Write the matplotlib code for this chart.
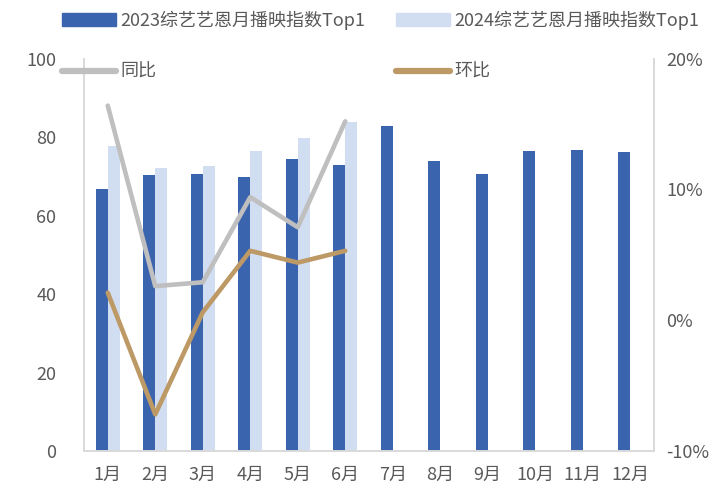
import matplotlib
matplotlib.use('Agg')
import matplotlib.pyplot as plt
import numpy as np
from matplotlib.patches import Patch
from matplotlib.lines import Line2D

plt.rcParams['font.family'] = ['Noto Sans CJK SC', 'DejaVu Sans']

# data
months = ['1月', '2月', '3月', '4月', '5月', '6月', '7月', '8月', '9月', '10月', '11月', '12月']
idx_2023 = [66.8, 70.4, 70.7, 69.9, 74.4, 72.9, 82.7, 74.0, 70.5, 76.4, 76.8, 76.2]
idx_2024 = [77.8, 72.2, 72.6, 76.4, 79.7, 83.9]
yoy = [16.4, 2.6, 2.9, 9.4, 7.1, 15.2]      # 同比, %
mom = [2.1, -7.2, 0.6, 5.3, 4.4, 5.3]       # 环比, %

label_2023 = '2023综艺艺恩月播映指数Top1'
label_2024 = '2024综艺艺恩月播映指数Top1'

c_dark = '#3b64ae'
c_light = '#d1ddf1'
c_gray = '#bfbfbf'
c_tan = '#bd9966'
c_text = '#595959'
c_spine = '#d9d9d9'
fs = 13

fig = plt.figure(figsize=(7.09, 4.91), dpi=100)
ax = fig.add_axes([84/709, 1-451/491, (654-84)/709, (451-58.5)/491])

x = np.arange(len(months))
w = 0.25
ax.bar(x - w/2, idx_2023, width=w, color=c_dark, zorder=2)
ax.bar(np.arange(len(idx_2024)) + w/2, idx_2024, width=w, color=c_light, zorder=2)

ax.set_xlim(-0.5, 11.5)
ax.set_ylim(0, 100)
ax.set_yticks(range(0, 101, 20))
ax.set_xticks(x)
ax.set_xticklabels(months)
ax.tick_params(axis='y', length=0, pad=20, labelsize=fs, labelcolor=c_text)
ax.tick_params(axis='x', length=0, pad=11, labelsize=fs, labelcolor=c_text)

ax2 = ax.twinx()
ax2.plot(range(len(yoy)), yoy, color=c_gray, lw=3.3,
         solid_capstyle='round', solid_joinstyle='round')
ax2.plot(range(len(mom)), mom, color=c_tan, lw=3.3,
         solid_capstyle='round', solid_joinstyle='round')
ax2.set_ylim(-10, 20)
ax2.set_yticks([-10, 0, 10, 20])
ax2.set_yticklabels(['-10%', '0%', '10%', '20%'])
ax2.tick_params(axis='y', length=0, pad=9, labelsize=fs, labelcolor=c_text)

for a in (ax, ax2):
    a.spines['top'].set_visible(False)
    for s in ('left', 'right', 'bottom'):
        a.spines[s].set_color(c_spine)
        a.spines[s].set_linewidth(1.2)

# legend entries placed one by one
entries = [
    (Patch(color=c_dark), label_2023, 62, 20),
    (Patch(color=c_light), label_2024, 396, 20),
    (Line2D([], [], color=c_gray, lw=4.5, solid_capstyle='round'), '同比', 62, 72),
    (Line2D([], [], color=c_tan, lw=4.5, solid_capstyle='round'), '环比', 396, 72),
]
for h, lab, px, py in entries:
    leg = fig.legend([h], [lab], loc='center left',
                     bbox_to_anchor=(px/709, 1-py/491), frameon=False,
                     fontsize=fs, handlelength=3.0, handleheight=0.75,
                     handletextpad=0.25, borderpad=0, borderaxespad=0)
    for t in leg.get_texts():
        t.set_color(c_text)

fig.savefig('out.png', dpi=100)
